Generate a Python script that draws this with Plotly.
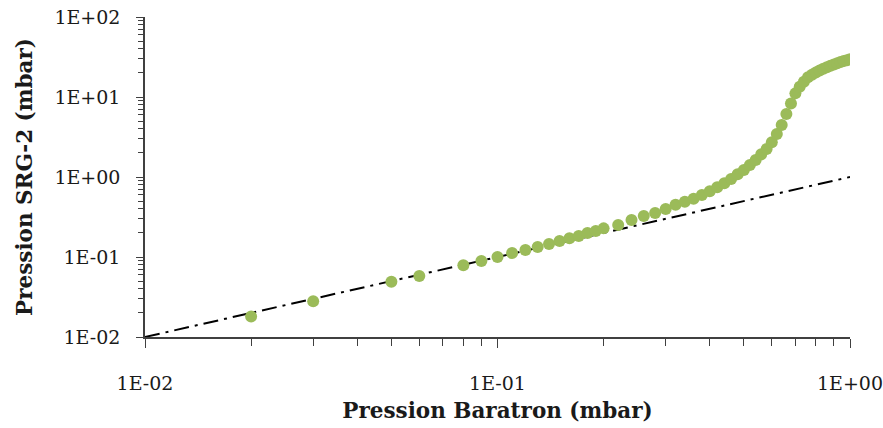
import plotly.graph_objects as go

# Measured data: Baratron pressure (mbar) vs SRG-2 pressure (mbar)
baratron = [0.02, 0.03, 0.05, 0.06, 0.08, 0.09, 0.10,
            0.11, 0.12, 0.13, 0.14, 0.15, 0.16, 0.17, 0.18, 0.19, 0.20,
            0.22, 0.24, 0.26, 0.28, 0.30, 0.32, 0.34, 0.36, 0.38, 0.40,
            0.42, 0.44, 0.46, 0.48, 0.50, 0.52, 0.54, 0.56, 0.58, 0.60,
            0.62, 0.64, 0.66, 0.68, 0.70, 0.72, 0.74, 0.76, 0.78, 0.80,
            0.82, 0.84, 0.86, 0.88, 0.90, 0.92, 0.94, 0.96, 0.98, 1.00]
srg2 = [0.018, 0.028, 0.049, 0.058, 0.079, 0.089, 0.100,
        0.112, 0.122, 0.133, 0.145, 0.158, 0.172, 0.183, 0.200, 0.211, 0.228,
        0.251, 0.290, 0.325, 0.355, 0.398, 0.450, 0.491, 0.535, 0.596, 0.663,
        0.744, 0.834, 0.944, 1.08, 1.22, 1.41, 1.63, 1.92, 2.24, 2.72,
        3.45, 4.47, 6.13, 8.3, 11.1, 13.4, 15.5, 17.6, 19.0, 20.3,
        21.5, 22.6, 23.6, 24.6, 25.5, 26.4, 27.3, 28.1, 28.9, 29.7]

# Reference line y = x
ref_x = [0.01, 1.0]
ref_y = [0.01, 1.0]

x_tickvals = [0.01, 0.1, 1.0]
x_ticktext = ["1E-02", "1E-01", "1E+00"]
y_tickvals = [0.01, 0.1, 1.0, 10.0, 100.0]
y_ticktext = ["1E-02", "1E-01", "1E+00", "1E+01", "1E+02"]
x_minor = [m * d for d in (0.01, 0.1) for m in range(2, 10)]
y_minor = [m * d for d in (0.01, 0.1, 1.0, 10.0) for m in range(2, 10)]

FONT = "DejaVu Serif"
AXIS_COLOR = "#404040"

fig = go.Figure()
fig.add_trace(go.Scatter(
    x=ref_x, y=ref_y, mode="lines",
    line=dict(color="black", width=2, dash="15px,6px,3px,6px"),
    showlegend=False, hoverinfo="skip"))
fig.add_trace(go.Scatter(
    x=baratron, y=srg2, mode="markers",
    marker=dict(color="#9BBB59", size=12, line=dict(width=0)),
    showlegend=False))

fig.update_layout(
    width=883, height=428,
    margin=dict(l=145, r=33, t=17, b=91),
    paper_bgcolor="white", plot_bgcolor="white",
    font=dict(family=FONT, size=19, color="#1a1a1a"),
)
fig.update_xaxes(
    type="log", range=[-2, 0], automargin=False, ticklabeloverflow="allow",
    tickmode="array", tickvals=x_tickvals, ticktext=x_ticktext,
    showgrid=False, zeroline=False,
    showline=True, linecolor=AXIS_COLOR, linewidth=1.5,
    ticks="outside", ticklen=9, tickwidth=1.2, tickcolor=AXIS_COLOR,
    minor=dict(tickmode="array", tickvals=x_minor, ticks="outside", ticklen=7,
               tickwidth=1, tickcolor=AXIS_COLOR, showgrid=False),
    ticklabelstandoff=19,
    title=dict(text="<b>Pression Baratron (mbar)</b>", font=dict(family=FONT, size=21.5), standoff=10),
)
fig.update_yaxes(
    type="log", range=[-2, 2], automargin=False, ticklabeloverflow="allow",
    tickmode="array", tickvals=y_tickvals, ticktext=y_ticktext,
    showgrid=False, zeroline=False,
    showline=True, linecolor=AXIS_COLOR, linewidth=1.5,
    ticks="outside", ticklen=7, tickwidth=1.2, tickcolor=AXIS_COLOR,
    minor=dict(tickmode="array", tickvals=y_minor, ticks="outside", ticklen=5,
               tickwidth=1, tickcolor=AXIS_COLOR, showgrid=False),
    ticklabelstandoff=12,
    title=dict(text="<b>Pression SRG-2 (mbar)</b>", font=dict(family=FONT, size=21.5), standoff=16),
)

# remove the default 8px page margin so the figure fills the window exactly
fig.write_html("out.html", config={"displayModeBar": False},
               post_script="document.body.style.margin='0';")
